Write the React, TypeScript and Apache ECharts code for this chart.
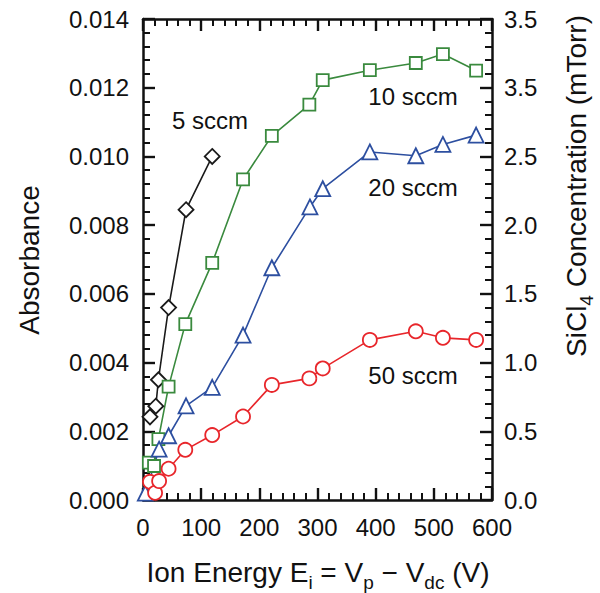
import React, { useEffect, useRef } from 'react';
import * as echarts from 'echarts';

const x5 = [12, 22, 26.5, 44, 74, 119];
const y5 = [0.00242, 0.00273, 0.0035, 0.0056, 0.00845, 0.01];

const x10 = [10, 19, 26.5, 44, 72.7, 119, 172, 221.5, 286, 309, 390, 469, 515.6, 572.7];
const y10 = [0.00109, 0.00099, 0.00177, 0.0033, 0.00512, 0.0069, 0.00933, 0.0106, 0.01151, 0.01222, 0.01251, 0.01272, 0.01298, 0.0125];

const x20 = [4, 27.7, 44, 74, 119, 172, 221.5, 287, 309, 390, 469, 515.6, 572.7];
const y20 = [0.0002, 0.00148, 0.00187, 0.00274, 0.00328, 0.0048, 0.00676, 0.00853, 0.00906, 0.01013, 0.01002, 0.01035, 0.01062];

const x50 = [12, 20.8, 27.7, 44, 72.7, 119, 172, 221.5, 286, 309, 390, 469, 515.6, 572.7];
const y50 = [0.00053, 0.00021, 0.00055, 0.00091, 0.00146, 0.00189, 0.00243, 0.00335, 0.00354, 0.00383, 0.00466, 0.00491, 0.00472, 0.00466];

const rightTickLabels = ['0.0', '0.5', '1.0', '1.5', '2.0', '2.5', '3.5', '3.5'];
const seriesNames = ['5 sccm', '10 sccm', '20 sccm', '50 sccm'];

const FONT = '"Liberation Sans", Arial, Helvetica, sans-serif';
const INK = '#111111';

export default function App() {
  const ref = useRef<HTMLDivElement>(null);
  useEffect(() => {
    document.body.style.margin = '0';
    const chart = echarts.init(ref.current!, null, { renderer: 'svg' });
    const zip = (xs: number[], ys: number[]) => xs.map((x, i) => [x, ys[i]]);
    const mk = (name: string, xs: number[], ys: number[], color: string, symbol: string, size: number) => ({
      name,
      type: 'line',
      data: zip(xs, ys),
      symbol,
      symbolSize: size,
      showSymbol: true,
      lineStyle: { color, width: 1.6 },
      itemStyle: { color: '#fff', borderColor: color, borderWidth: 1.8 },
    });
    const axisCommon = () => ({
      axisLine: { show: true, onZero: false, lineStyle: { color: INK, width: 2.5 } },
      axisTick: { show: true, inside: true, length: 12, lineStyle: { color: INK, width: 2.4 } },
      minorTick: { show: true, splitNumber: 5, length: 7, lineStyle: { color: INK, width: 2 } },
      splitLine: { show: false },
      minorSplitLine: { show: false },
    });
    const labelStyle = () => ({ fontSize: 24, fontFamily: FONT, color: INK });
    const sub = { fontSize: 19, fontFamily: FONT, fill: INK, verticalAlign: 'bottom', padding: [21, 0, 0, 0] };
    const norm = { fontSize: 28, fontFamily: FONT, fill: INK, verticalAlign: 'middle' };
    const sub2 = { ...sub };
    const norm2 = { ...norm };
    const tag = (text: string, x: number, y: number) => ({
      type: 'text', x, y,
      style: { text, fontSize: 24, fontFamily: FONT, fill: INK, align: 'center', verticalAlign: 'middle' },
    });
    chart.setOption({
      animation: false,
      grid: { left: 143, right: 108, top: 19, bottom: 93 },
      xAxis: [
        {
          type: 'value', min: 0, max: 600, interval: 100, position: 'bottom',
          ...axisCommon(),
          axisLabel: { ...labelStyle(), margin: 15 },
        },
        {
          type: 'value', min: 0, max: 600, interval: 100, position: 'top',
          ...axisCommon(),
          axisLabel: { show: false },
        },
      ],
      yAxis: [
        {
          type: 'value', min: 0, max: 0.014, interval: 0.002, position: 'left',
          ...axisCommon(),
          axisLabel: { ...labelStyle(), margin: 14, formatter: (v: number) => v.toFixed(3) },
        },
        {
          type: 'value', min: 0, max: 3.5, interval: 0.5, position: 'right',
          ...axisCommon(),
          axisLabel: { ...labelStyle(), margin: 12, formatter: (v: number) => rightTickLabels[Math.round(v * 2)] },
        },
      ],
      series: [
        mk(seriesNames[0], x5, y5, '#1a1a1a', 'diamond', 15),
        mk(seriesNames[1], x10, y10, '#3a8a3e', 'rect', 12),
        mk(seriesNames[2], x20, y20, '#2d4fa0', 'triangle', 15),
        mk(seriesNames[3], x50, y50, '#e8262b', 'circle', 14),
      ],
      graphic: [
        { type: 'text', x: 29, y: 260, rotation: Math.PI / 2, style: { text: 'Absorbance', fontSize: 28, fontFamily: FONT, fill: INK, align: 'center', verticalAlign: 'middle' } },
        {
          type: 'text', x: 318, y: 572,
          style: {
            text: '{n|Ion Energy E}{s|i}{n| = V}{s|p}{n| − V}{s|dc}{n| (V)}',
            rich: { n: norm, s: sub }, align: 'center', verticalAlign: 'middle',
          },
        },
        {
          type: 'text', x: 576, y: 186, rotation: Math.PI / 2,
          style: {
            text: '{n|SiCl}{s|4}{n| Concentration (mTorr)}',
            rich: { n: norm2, s: sub2 }, align: 'center', verticalAlign: 'middle',
          },
        },
        tag(seriesNames[0], 210, 120),
        tag(seriesNames[1], 413, 96),
        tag(seriesNames[2], 413, 187),
        tag(seriesNames[3], 413, 375),
      ],
    });
    return () => chart.dispose();
  }, []);
  return <div ref={ref} style={{ width: 600, height: 593 }} />;
}
